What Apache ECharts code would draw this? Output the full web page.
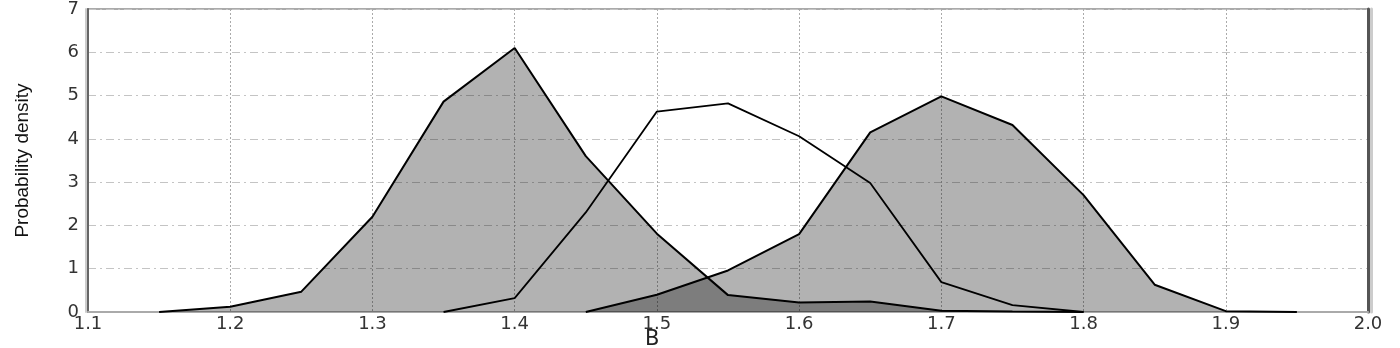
<!DOCTYPE html>
<html>
<head>
<meta charset="utf-8">
<script src="https://cdn.jsdelivr.net/npm/echarts@6/dist/echarts.min.js"></script>
<style>html,body{margin:0;padding:0;background:#fff}#c{width:1400px;height:348px}</style>
</head>
<body>
<div id="c"></div>
<script>
// B values (x), step 0.05
const bValues = [1.1,1.15,1.2,1.25,1.3,1.35,1.4,1.45,1.5,1.55,1.6,1.65,1.7,1.75,1.8,1.85,1.9,1.95,2.0];
// Left filled density
const densityLeft  = [null,0,0.12,0.47,2.2,4.86,6.1,3.6,1.81,0.39,0.22,0.245,0.03,0.01,0,null,null,null,null];
// Middle unfilled density
const densityMid   = [null,null,null,null,null,0,0.32,2.3,4.63,4.82,4.06,2.98,0.69,0.16,0,null,null,null,null];
// Right filled density
const densityRight = [null,null,null,null,null,null,null,0,0.4,0.96,1.8,4.15,4.98,4.32,2.7,0.63,0.02,0,null];
const xTicks = ['1.1','1.2','1.3','1.4','1.5','1.6','1.7','1.8','1.9','2.0'];
const yTicks = ['0','1','2','3','4','5','6','7'];

function pairs(arr){ return bValues.map((x,i)=>[x,arr[i]]).filter(p=>p[1]!==null); }

const chart = echarts.init(document.getElementById('c'));
const tickFont = {fontFamily:'DejaVu Sans', fontSize:18, color:'#333'};
chart.setOption({
  animation:false,
  grid:{left:88,right:32,top:7,bottom:36,show:true,borderColor:'#aaa',borderWidth:2},
  title:{text:'B',left:640,top:324,textStyle:{fontFamily:'DejaVu Sans',fontSize:21,fontWeight:'normal',color:'#222'}},
  xAxis:[{
    type:'value',min:1.1,max:2.0,interval:0.1,
    axisLine:{show:true,lineStyle:{color:'#888',width:1.5}},
    axisTick:{show:false},
    axisLabel:Object.assign({margin:3,formatter:v=>xTicks[Math.round((v-1.1)*10)]},tickFont),
    splitLine:{show:true,lineStyle:{color:'#aaa',type:[2,2],width:1}}
  },{
    type:'value',position:'top',min:1.1,max:2.0,
    axisLine:{show:true,lineStyle:{color:'#aaa',width:2}},
    axisTick:{show:false},axisLabel:{show:false},splitLine:{show:false}
  }],
  yAxis:[{
    type:'value',min:0,max:7,interval:1,
    name:'Probability density',nameLocation:'middle',nameGap:56,
    nameTextStyle:{fontFamily:'Liberation Sans Narrow, Liberation Sans',fontSize:19,color:'#111'},
    axisLine:{show:true,lineStyle:{color:'#666',width:2,shadowColor:'#ccc',shadowOffsetX:-2,shadowBlur:0}},
    axisTick:{show:false},
    axisLabel:Object.assign({margin:9,formatter:v=>yTicks[v]},tickFont),
    splitLine:{show:true,lineStyle:{color:'#c4c4c4',type:[8,4,2,4],width:1}}
  },{
    type:'value',position:'right',min:0,max:7,
    axisLine:{show:true,lineStyle:{color:'#555',width:3,shadowColor:'#ccc',shadowOffsetX:3,shadowBlur:0}},
    axisTick:{show:false},axisLabel:{show:false},splitLine:{show:false}
  }],
  series:[
    {type:'line',data:pairs(densityLeft),symbol:'none',lineStyle:{color:'#000',width:2},areaStyle:{color:'#000',opacity:0.3,origin:'start'},z:3},
    {type:'line',data:pairs(densityRight),symbol:'none',lineStyle:{color:'#000',width:2},areaStyle:{color:'#000',opacity:0.3,origin:'start'},z:3},
    {type:'line',data:pairs(densityMid),symbol:'none',lineStyle:{color:'#000',width:1.8},z:4}
  ]
});
</script>
</body>
</html>
